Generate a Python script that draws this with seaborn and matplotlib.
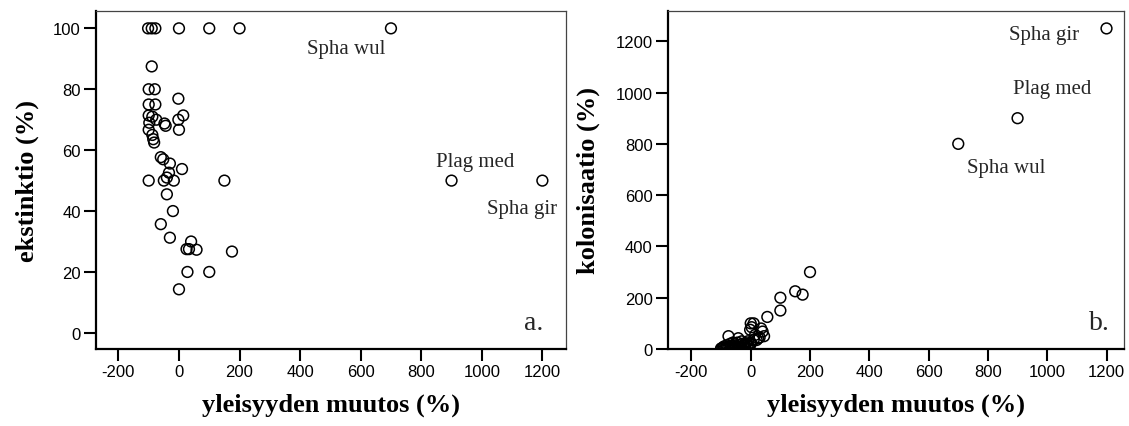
import matplotlib
matplotlib.use("Agg")
import matplotlib.pyplot as plt
import seaborn as sns
import pandas as pd

# Panel a: change in frequency (%) vs extinction (%)
change_a = [-102, -90, -78, 0, 100, 200, 700,
            -90, -100, -80, -100, -78, -100, -88, -75, -98, -100, -88, -85, -82,
            -48, -44, -2, -2, 14, 0, -60, -52, -30, -33, -40, 10,
            -100, -50, -17, 150, -40, -20, -60, -30, 40, 25, 33, 58, 175,
            28, 100, 0, 900, 1200]
extinction = [100, 100, 100, 100, 100, 100, 100,
              87.5, 80, 80, 75, 75, 71.4, 71, 70, 69, 66.7, 65, 63.6, 62.5,
              68.75, 68, 76.9, 70, 71.4, 66.7, 57.7, 57, 55.6, 52.6, 51, 53.8,
              50, 50, 50, 50, 45.5, 40, 35.7, 31.25, 30, 27.5, 27.5, 27.3, 26.7,
              20, 20, 14.3, 50, 50]

# Panel b: change in frequency (%) vs colonisation (%)
change_b = [200, 150, 175, 100, 100, 56, 0, 10, 3, -2, 40, 35, 25, 45, 15, 30, 20,
            -75, -42, -60, -30, -20, -10, 0, 10,
            -100, -95, -90, -85, -80, -75, -70, -65, -60, -55, -50, -45, -40,
            -35, -30, -25, -20, -15, -10, -5,
            -100, -90, -80, -70, -60, -50, -40, -30, -20, 0,
            700, 900, 1200]
colonisation = [300, 225, 212, 200, 150, 125, 100, 100, 85, 75, 68, 80, 42, 50, 55, 45, 35,
                50, 42, 25, 30, 20, 15, 25, 35,
                0, 5, 10, 3, 15, 8, 20, 12, 5, 18, 10, 25, 15,
                8, 20, 12, 5, 22, 30, 10,
                2, 0, 5, 2, 0, 3, 8, 5, 12, 20,
                800, 900, 1250]

labels_a = ["Spha wul", "Plag med", "Spha gir"]
labels_b = ["Spha gir", "Plag med", "Spha wul"]

xticks = [-200, 0, 200, 400, 600, 800, 1000, 1200]
yticks_a = [0, 20, 40, 60, 80, 100]
yticks_b = [0, 200, 400, 600, 800, 1000, 1200]

sns.set_theme(style="white")
plt.rcParams['font.family'] = ['Liberation Sans', 'DejaVu Sans']
plt.rcParams['axes.unicode_minus'] = False

df_a = pd.DataFrame({"x": change_a, "y": extinction})
df_b = pd.DataFrame({"x": change_b, "y": colonisation})

fig = plt.figure(figsize=(11.29, 4.27), dpi=100)
ax1 = fig.add_axes([96/1129, 77/427, 470/1129, 338/427])
ax2 = fig.add_axes([668/1129, 77/427, 456/1129, 338/427])

for ax, df in ((ax1, df_a), (ax2, df_b)):
    sns.scatterplot(data=df, x="x", y="y", ax=ax, s=60, marker="o",
                    facecolor="none", edgecolor="black", linewidth=1.1)

ax1.set_xlim(-274, 1278)
ax1.set_ylim(-5.3, 105.7)
ax2.set_xlim(-279, 1259)
ax2.set_ylim(0, 1318)

serif = ['Liberation Serif', 'DejaVu Serif']
for ax, yt, ylab, ylx in ((ax1, yticks_a, "ekstinktio (%)", -0.147),
                          (ax2, yticks_b, "kolonisaatio (%)", -0.175)):
    ax.set_xticks(xticks)
    ax.set_yticks(yt)
    ax.tick_params(axis='both', which='major', direction='out', length=8.5,
                   width=1.5, color='black', labelsize=12, pad=2.5,
                   left=True, bottom=True, labelcolor='black')
    for side in ('left', 'bottom'):
        ax.spines[side].set_linewidth(1.6)
        ax.spines[side].set_color('black')
    for side in ('top', 'right'):
        ax.spines[side].set_linewidth(0.9)
        ax.spines[side].set_color('#444444')
        ax.spines[side].set_visible(True)
    ax.set_xlabel("yleisyyden muutos (%)", family=serif, fontweight='bold',
                  fontsize=19, color='black', va='center')
    ax.set_ylabel(ylab, family=serif, fontweight='bold', fontsize=19,
                  color='black', va='center')
    ax.xaxis.set_label_coords(0.5, -0.163)
    ax.yaxis.set_label_coords(ylx, 0.5)

# annotations panel a
ax1.text(680, 93.3, labels_a[0], family=serif, fontsize=15, ha='right', va='center')
ax1.text(978, 56.2, labels_a[1], family=serif, fontsize=15, ha='center', va='center')
ax1.text(1133, 40.7, labels_a[2], family=serif, fontsize=15, ha='center', va='center')
ax1.text(0.951, 0.059, "a.", transform=ax1.transAxes, family=serif, fontsize=20,
         ha='right', va='baseline')

# annotations panel b
ax2.text(989, 1228, labels_b[0], family=serif, fontsize=15, ha='center', va='center')
ax2.text(1018, 1014, labels_b[1], family=serif, fontsize=15, ha='center', va='center')
ax2.text(863, 708, labels_b[2], family=serif, fontsize=15, ha='center', va='center')
ax2.text(0.969, 0.059, "b.", transform=ax2.transAxes, family=serif, fontsize=20,
         ha='right', va='baseline')

fig.savefig("out.png", dpi=100, facecolor='white')
